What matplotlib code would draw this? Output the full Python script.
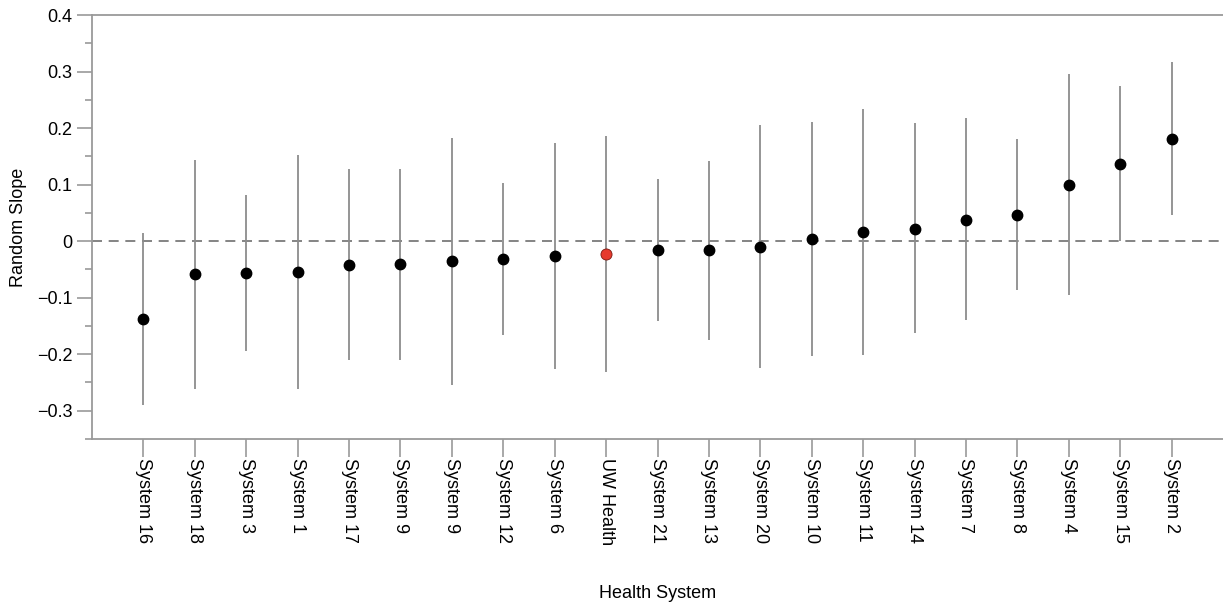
import matplotlib
matplotlib.use("Agg")
import matplotlib.pyplot as plt
from matplotlib.ticker import MultipleLocator

plt.rcParams['font.family'] = ['Liberation Sans', 'DejaVu Sans']

systems = ["System 16", "System 18", "System 3", "System 1", "System 17", "System 9",
           "System 9", "System 12", "System 6", "UW Health", "System 21", "System 13",
           "System 20", "System 10", "System 11", "System 14", "System 7", "System 8",
           "System 4", "System 15", "System 2"]
slope = [-0.138, -0.059, -0.056, -0.054, -0.042, -0.041, -0.036, -0.031, -0.027, -0.022,
         -0.016, -0.015, -0.011, 0.004, 0.016, 0.022, 0.038, 0.047, 0.100, 0.136, 0.181]
upper = [0.014, 0.143, 0.081, 0.153, 0.127, 0.128, 0.182, 0.102, 0.173, 0.186,
         0.110, 0.142, 0.205, 0.211, 0.233, 0.209, 0.217, 0.180, 0.295, 0.274, 0.316]
lower = [-0.290, -0.261, -0.194, -0.261, -0.211, -0.210, -0.255, -0.166, -0.227, -0.231,
         -0.142, -0.174, -0.224, -0.204, -0.202, -0.163, -0.139, -0.087, -0.095, 0.000, 0.046]
highlight = "UW Health"

fig = plt.figure(figsize=(12.23, 6.08), dpi=100)
ax = fig.add_axes([92/1223, 1-439/608, 1-92/1223, (439-15)/608])

xs = list(range(1, len(systems)+1))
spine_c = '#9a9a9a'
ax.axhline(0, color='#707070', lw=1.2, ls=(0, (6, 4)), zorder=1)
ax.vlines(xs, lower, upper, color='#8c8c8c', lw=1.3, zorder=2)
for x, s, v in zip(xs, systems, slope):
    if s == highlight:
        ax.plot(x, v, 'o', ms=8, mfc='#e63b2e', mec='#7a1a12', mew=0.6, zorder=3)
    else:
        ax.plot(x, v, 'o', ms=7.5, mfc='black', mec='black', zorder=3)

ax.set_xlim(0, 22)
ax.set_ylim(-0.35, 0.4)
ax.set_xticks(xs)
ax.set_xticklabels(systems, rotation=270, fontsize=13, va='top', ha='center')
ax.yaxis.set_minor_locator(MultipleLocator(0.05))
ax.set_yticks([0.4, 0.3, 0.2, 0.1, 0, -0.1, -0.2, -0.3])
ax.set_yticklabels(['0.4', '0.3', '0.2', '0.1', '0', '\u22120.1', '\u22120.2', '\u22120.3'], fontsize=13)

ax.tick_params(axis='y', which='major', length=11, width=1.2, color=spine_c, pad=3)
ax.tick_params(axis='y', which='minor', length=5, width=1.2, color=spine_c)
ax.tick_params(axis='x', which='major', length=13, width=1.2, color=spine_c, pad=1)

for sp in ['left', 'top', 'bottom']:
    ax.spines[sp].set_color(spine_c)
    ax.spines[sp].set_linewidth(1.3)
ax.spines['right'].set_visible(False)

ax.set_ylabel('Random Slope', fontsize=13)
ax.yaxis.label.set_va('center')
ax.yaxis.set_label_coords(19/1223, 1-227/608, transform=fig.transFigure)
ax.set_xlabel('Health System', fontsize=13)
ax.xaxis.label.set_va('center')
ax.xaxis.set_label_coords(658/1223, 1-594/608, transform=fig.transFigure)

fig.savefig('out.png', dpi=100)
